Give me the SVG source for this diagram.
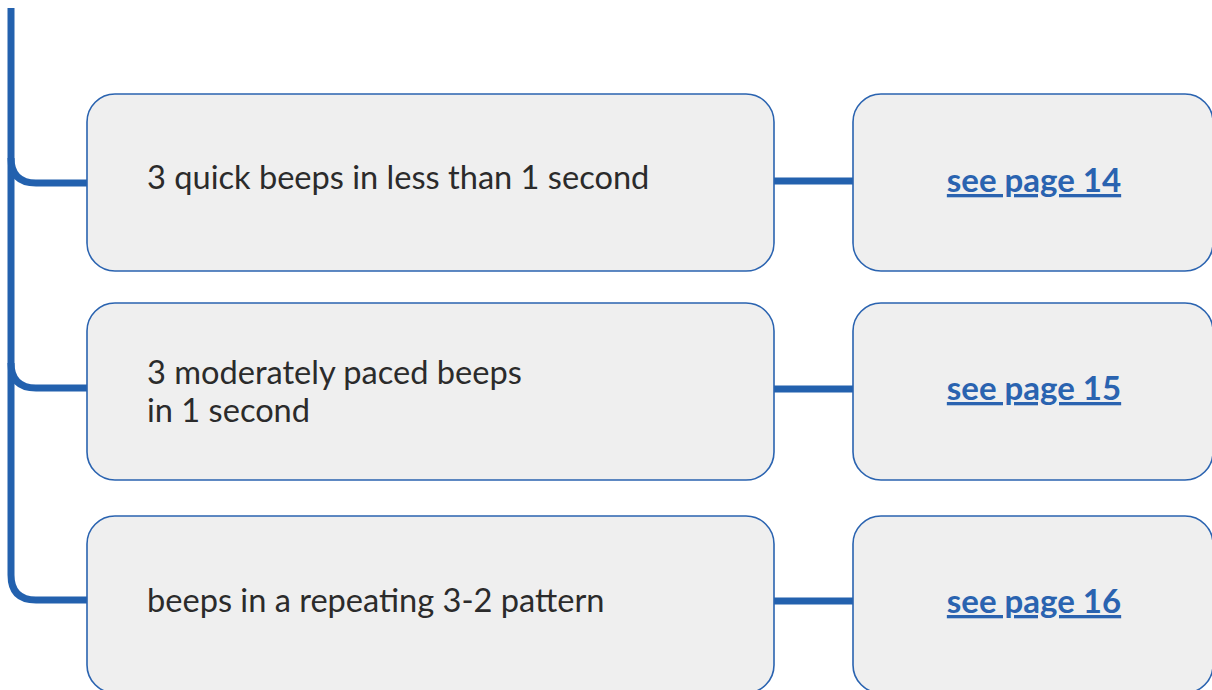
<svg xmlns="http://www.w3.org/2000/svg" width="1212" height="690" viewBox="0 0 1212 690">
  <style>
    .box { fill: #efefef; stroke: #2a63b0; stroke-width: 1.6; }
    .wire { fill: none; stroke: #2361ae; stroke-width: 7; }
    .label { font-family: Lato, "Open Sans", sans-serif; font-size: 32.6px; font-weight: 400; fill: #2b2b2b; }
    .link { font-family: Lato, "Open Sans", sans-serif; font-size: 33px; font-weight: bold; fill: #2a63b0; text-decoration: underline; text-anchor: middle; }
  </style>
  <rect width="1212" height="690" fill="#ffffff"/>

  <!-- connectors: trunk with rounded branches, plus short links to the page boxes -->
  <g id="connectors">
    <path class="wire" d="M11 8 V575 Q11 600 36 600 H88"/>
    <path class="wire" d="M11 158 Q11 183 36 183 H88"/>
    <path class="wire" d="M11 363 Q11 388 36 388 H88"/>
    <path class="wire" d="M774 181 H854"/>
    <path class="wire" d="M774 389 H854"/>
    <path class="wire" d="M774 601 H854"/>
  </g>

  <g id="beep-quick">
    <rect class="box" x="87" y="94" width="687" height="177" rx="28"/>
    <text class="label" x="147" y="189">3 quick beeps in less than 1 second</text>
  </g>
  <g id="page-14">
    <rect class="box" x="853" y="94" width="360" height="177" rx="28"/>
    <text class="link" x="1034" y="192">see page 14</text>
  </g>

  <g id="beep-moderate">
    <rect class="box" x="87" y="303" width="687" height="177" rx="28"/>
    <text class="label" x="147" y="384">3 moderately paced beeps</text>
    <text class="label" x="147" y="422">in 1 second</text>
  </g>
  <g id="page-15">
    <rect class="box" x="853" y="303" width="360" height="177" rx="28"/>
    <text class="link" x="1034" y="400">see page 15</text>
  </g>

  <g id="beep-pattern">
    <rect class="box" x="87" y="516" width="687" height="177" rx="28"/>
    <text class="label" x="147" y="612">beeps in a repeating 3-2 pattern</text>
  </g>
  <g id="page-16">
    <rect class="box" x="853" y="516" width="360" height="177" rx="28"/>
    <text class="link" x="1034" y="613">see page 16</text>
  </g>
</svg>
